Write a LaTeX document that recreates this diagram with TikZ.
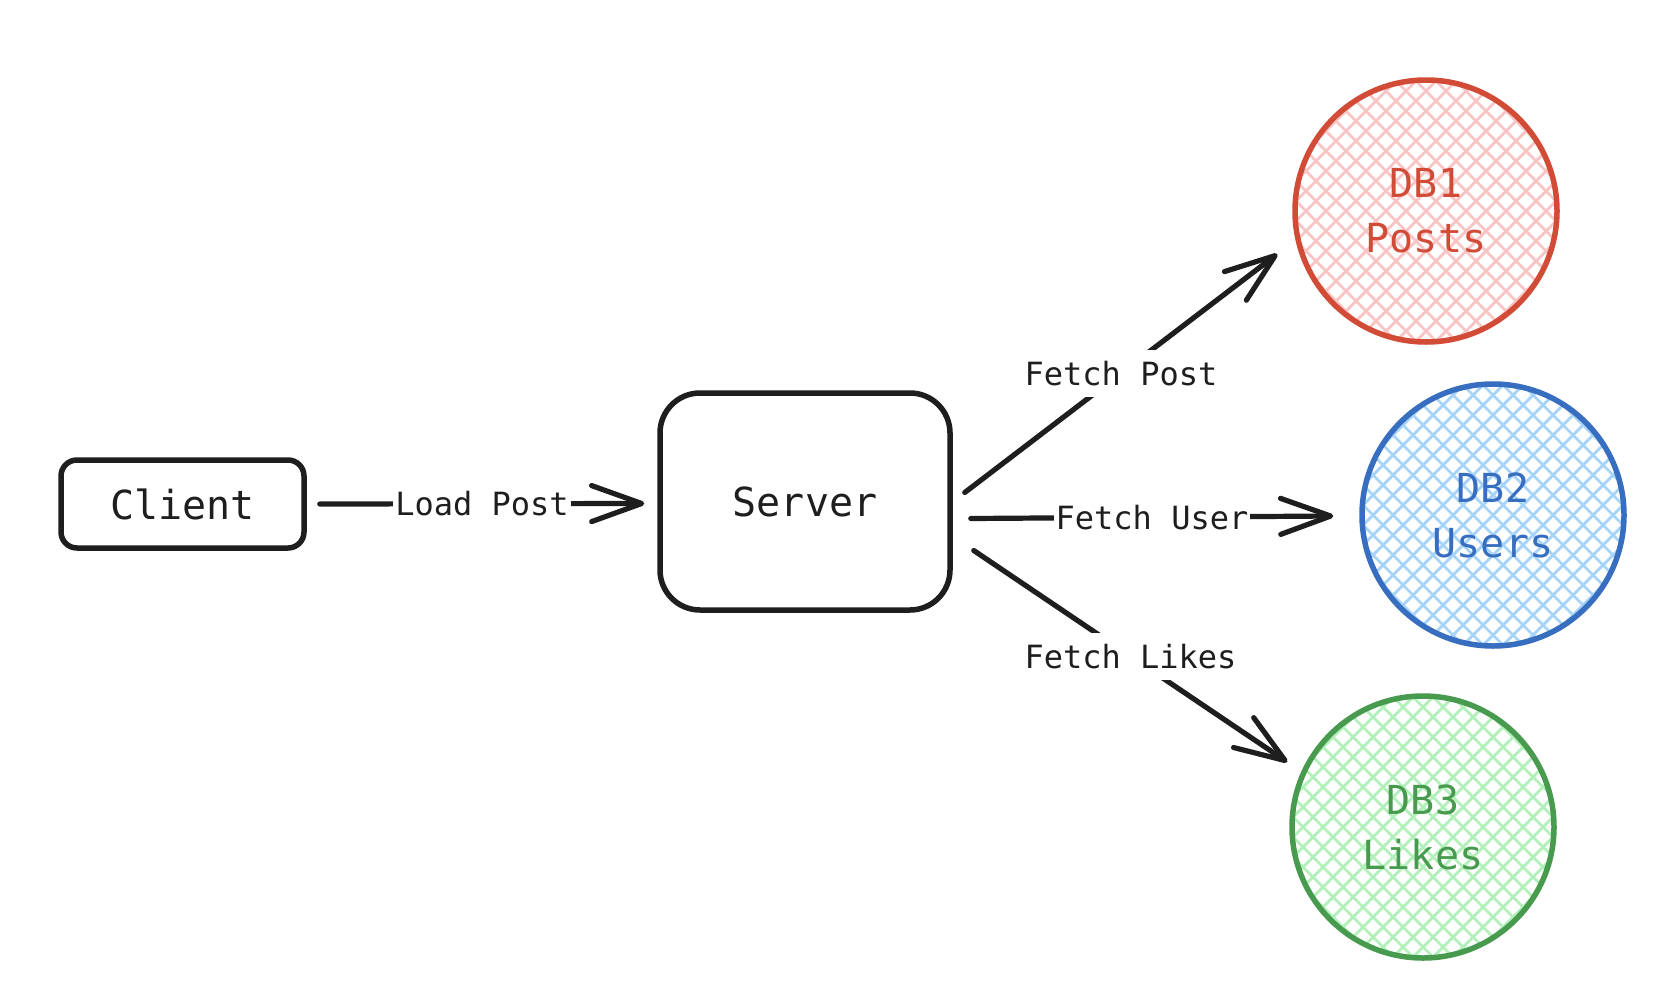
\documentclass[tikz,border=0pt]{standalone}
\usepackage{fontspec}
\usetikzlibrary{arrows.meta,calc}
\newfontfamily\handfont{DejaVu Sans Mono}
\definecolor{ink}{RGB}{30,30,30}
\definecolor{dbred}{RGB}{210,75,55}
\definecolor{dbblue}{RGB}{55,110,192}
\definecolor{dbgreen}{RGB}{72,155,78}
\definecolor{hatchred}{HTML}{F8C4C4}
\definecolor{hatchblue}{HTML}{A5D3FA}
\definecolor{hatchgreen}{HTML}{B2F0BA}
\newcommand\dbhatch[3]{%
  \begin{scope}
    \clip (#1,#2) circle[radius=129];
    \foreach \k in {-10,...,10} {
      \draw[#3, line width=2.8pt] ({#1+\k*20-150},{#2-150}) -- ({#1+\k*20+150},{#2+150});
      \draw[#3, line width=2.8pt] ({#1+\k*20-150},{#2+150}) -- ({#1+\k*20+150},{#2-150});
    }
  \end{scope}}
\begin{document}
\begin{tikzpicture}[x=1pt,y=-1pt,
  box/.style={draw=ink, line width=5.5pt, text=ink, inner sep=0pt,
    font=\handfont\fontsize{40}{48}\selectfont},
  dbnode/.style={circle, draw=#1, text=#1, line width=5.5pt, minimum size=262pt,
    inner sep=0pt, align=center, font=\handfont\fontsize{40}{55}\selectfont},
  conn/.style={draw=ink, line width=5.2pt, line cap=round,
    -{Straight Barb[length=50pt,width=36pt,round]}},
  lbl/.style={fill=white, text=ink, inner xsep=2pt, inner ysep=11pt,
    font=\handfont\fontsize{32}{38}\selectfont}]
\useasboundingbox (0,0) rectangle (1668,1004);
\fill[white] (0,0) rectangle (1668,1004);

\dbhatch{1426}{211}{hatchred}
\dbhatch{1493}{515}{hatchblue}
\dbhatch{1423}{827}{hatchgreen}

\node[box, rounded corners=16pt, minimum width=243pt, minimum height=88pt] (client) at (182.5,504) {Client};
\node[box, rounded corners=40pt, minimum width=290pt, minimum height=217pt] (server) at (805,501.5) {Server};

\node[dbnode=dbred]   (db1) at (1426,211) {DB1\\Posts};
\node[dbnode=dbblue]  (db2) at (1493,515) {DB2\\Users};
\node[dbnode=dbgreen] (db3) at (1423,827) {DB3\\Likes};

\draw[conn] ($(client.east)+(13,0)$) -- node[lbl, pos=0.5] {Load Post} ($(server.west)+(-13,2)$);
\draw[conn] ($(server.east)+(12,-9)$) -- node[lbl, pos=0.5] {Fetch Post} ($(db1.west)+(-15,43)$);
\draw[conn] ($(server.east)+(18,17)$) -- node[lbl, pos=0.5] {Fetch User} ($(db2.west)+(-26,1)$);
\draw[conn] ($(server.east)+(21,49)$) -- node[lbl, pos=0.5] {Fetch Likes} ($(db3.west)+(-2,-65)$);
\end{tikzpicture}
\end{document}
